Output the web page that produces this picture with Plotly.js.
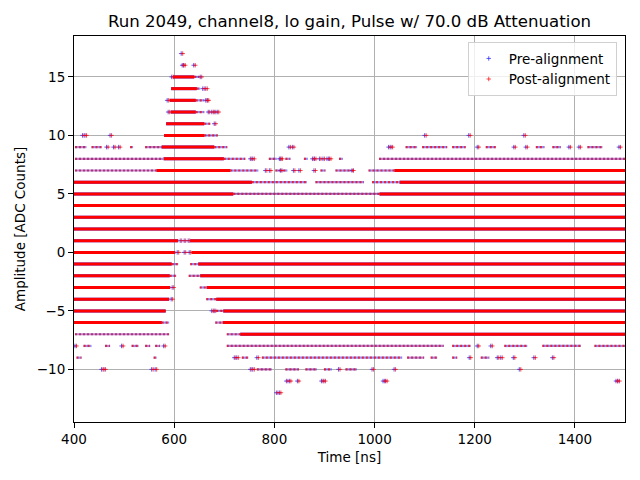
<!DOCTYPE html>
<html>
<head>
<meta charset="utf-8">
<script src="https://cdn.plot.ly/plotly-3.0.1.min.js"></script>
<style>
  html, body { margin: 0; padding: 0; background: #fff; }
  #chart { width: 640px; height: 480px; }
</style>
</head>
<body>
<div id="chart"></div>
<script>
// Dense (solid) runs of samples: amplitude level, first and last time [ns]
const solidLevel = [15, 14, 13, 12, 11, 10, 9, 8, 7, 7, 6, 6, 5, 5, 4, 3, 2,
  1, 1, 0, 0, -1, -1, -2, -2, -3, -3, -4, -4, -5, -5, -6, -6, -7];
const solidStart = [598, 594, 591, 593, 584, 580, 575, 579, 565, 1040, 400, 1050, 400, 1010, 400, 400, 400,
  400, 632, 400, 635, 400, 648, 400, 652, 400, 665, 400, 684, 400, 698, 400, 697, 732];
const solidEnd = [640, 645, 643, 643, 660, 660, 680, 699, 712, 1500, 755, 1500, 718, 1500, 1500, 1500, 1500,
  608, 1500, 602, 1500, 595, 1500, 591, 1500, 592, 1500, 590, 1500, 583, 1500, 575, 1500, 1500];

// Half-filled runs where pre and post samples interleave
const mixedLevel = [15, 14, 13, 12, 11, 10,
  9, 9, 9, 9, 9, 9, 9, 9, 9, 9, 9, 9,
  8, 8, 8, 8, 8, 8, 8,
  7, 7, 7, 7, 7, 7,
  6, 6, 6, 5,
  -1, -1, -2, -2, -3, -4, -5, -6, -6, -7, -7,
  -8, -8, -8, -8, -8, -8, -8, -8, -8, -8,
  -9, -9, -9, -9, -9, -9, -9, -9,
  -10, -10, -10, -10, -10];
const mixedStart = [640, 645, 643, 643, 660, 660,
  402, 435, 512, 542, 680, 1062, 1095, 1155, 1222, 1322, 1355, 1425,
  402, 699, 789, 822, 859, 929, 1009,
  402, 712, 802, 892, 922, 988,
  755, 882, 995, 718,
  595, 632, 591, 629, 651, 664, 684, 575, 682, 402, 705,
  419, 462, 515, 542, 562, 705, 1155, 1259, 1335, 1439,
  405, 559, 735, 775, 1065, 1112, 1155, 1212,
  765, 822, 862, 899, 942];
const mixedEnd = [650, 652, 660, 660, 672, 687,
  425, 455, 518, 575, 706, 1085, 1145, 1182, 1242, 1339, 1372, 1455,
  578, 742, 805, 832, 867, 937, 1500,
  565, 768, 826, 902, 959, 1040,
  865, 979, 1050, 1010,
  608, 648, 604, 652, 665, 684, 698, 590, 697, 590, 732,
  435, 472, 529, 552, 572, 1138, 1192, 1305, 1412, 1500,
  415, 565, 748, 1055, 1099, 1125, 1165, 1229,
  795, 849, 885, 915, 965];

// Isolated samples
const pointLevel = [17, 16, 16, 16, 15, 15, 14, 14, 13, 13, 13, 12, 12, 12, 12, 12, 11,
  10, 10, 10, 10, 10, 10,
  9, 9, 9, 9, 9, 9, 9, 9, 9, 9, 9, 9, 9,
  8, 8, 8, 8, 8, 8, 8, 8, 8, 8,
  7, 7, 7, 7, 7, 7, 7,
  1, 1, 1, 0, 0, 0, -3, -4, -5, -5,
  -8, -8, -8, -8, -8,
  -9, -9, -9, -9, -9, -9, -9, -9, -9,
  -10, -10, -10, -10, -10, -10, -10, -10, -10, -10,
  -11, -11, -11, -11, -11, -11, -11, -11, -11,
  -12, -12];
const pointTime = [614, 616, 619, 639, 595, 652, 657, 663, 586, 663, 666, 588, 668, 675, 680, 686, 680,
  417, 422, 472, 1100, 1188, 1298,
  465, 479, 489, 829, 836, 1028, 1033, 1205, 1278, 1302, 1388, 1408, 1488,
  752, 757, 810, 813, 876, 880, 890, 897, 905, 910,
  955, 782, 790, 812, 838, 849, 879,
  612, 620, 628, 606, 620, 630, 596, 594, 675, 680,
  402, 495, 579, 1205, 1232,
  720, 725, 765, 1189, 1245, 1252, 1277, 1318, 1355,
  455, 460, 555, 562, 752, 757, 928, 995, 1039, 1289,
  824, 830, 846, 894, 899, 1017, 1022, 1482, 1486,
  804, 810];

const xTicks = [400, 600, 800, 1000, 1200, 1400];
const yTicks = [-10, -5, 0, 5, 10, 15];

function runs(levels, starts, ends) {
  const x = [];
  const y = [];
  for (let i = 0; i < levels.length; i++) {
    x.push(starts[i], ends[i], null);
    y.push(levels[i], levels[i], null);
  }
  return {x: x, y: y};
}

const solid = runs(solidLevel, solidStart, solidEnd);
const mixed = runs(mixedLevel, mixedStart, mixedEnd);

const blue = 'rgba(40,40,255,0.75)';
const red = 'rgba(255,0,0,0.7)';

const traces = [{
  x: solid.x, y: solid.y, mode: 'lines', legendgroup: 'pre', showlegend: false,
  line: {color: '#3030ff', width: 3}, hoverinfo: 'skip',
}, {
  x: mixed.x, y: mixed.y, mode: 'lines', legendgroup: 'pre', showlegend: false,
  line: {color: 'rgba(70,70,255,0.6)', width: 2.2}, hoverinfo: 'skip',
}, {
  x: pointTime, y: pointLevel, mode: 'markers', name: 'Pre-alignment', legendgroup: 'pre',
  marker: {symbol: 'cross-thin', size: 3.2, line: {color: blue, width: 1}},
}, {
  x: solid.x, y: solid.y, mode: 'lines', legendgroup: 'post', showlegend: false,
  line: {color: '#ff0000', width: 3}, hoverinfo: 'skip',
}, {
  x: mixed.x, y: mixed.y, mode: 'lines', legendgroup: 'post', showlegend: false,
  line: {color: 'rgba(255,0,0,0.75)', width: 2.2, dash: '2px,2px'}, hoverinfo: 'skip',
}, {
  x: pointTime.map((t) => t + 3), y: pointLevel, mode: 'markers', name: 'Post-alignment', legendgroup: 'post',
  marker: {symbol: 'cross-thin', size: 3.2, line: {color: red, width: 1}},
}];

const axisStyle = {
  showline: true,
  mirror: true,
  linecolor: '#000',
  linewidth: 1,
  ticks: 'outside',
  ticklen: 5,
  tickwidth: 1,
  tickcolor: '#000',
  showgrid: true,
  gridcolor: '#b0b0b0',
  gridwidth: 1,
  zeroline: false,
  tickfont: {size: 13.5, color: '#000'},
  layer: 'above traces',
};

Plotly.newPlot('chart', traces, {
  width: 640,
  height: 480,
  margin: {l: 74, r: 15, t: 36, b: 58},
  font: {family: 'DejaVu Sans', color: '#000'},
  paper_bgcolor: '#fff',
  plot_bgcolor: '#fff',
  title: {
    text: 'Run 2049, channel8, lo gain, Pulse w/ 70.0 dB Attenuation',
    font: {size: 16.6, color: '#000'},
    x: 0.5, xref: 'paper', y: 0.956, yref: 'container', yanchor: 'middle',
  },
  xaxis: Object.assign({}, axisStyle, {
    range: [400, 1500],
    tickvals: xTicks,
    title: {text: 'Time [ns]', font: {size: 13.5}, standoff: 6},
  }),
  yaxis: Object.assign({}, axisStyle, {
    range: [-14.5, 18.5],
    tickvals: yTicks,
    title: {text: 'Amplitude [ADC Counts]', font: {size: 13.5}, standoff: 8},
  }),
  legend: {
    x: 0.985, xanchor: 'right', y: 0.984, yanchor: 'top',
    bgcolor: 'rgba(255,255,255,0.8)',
    bordercolor: '#d0d0d0',
    borderwidth: 1,
    tracegroupgap: 0,
    font: {size: 13.5},
  },
  showlegend: true,
}, {displayModeBar: false});
</script>
</body>
</html>
